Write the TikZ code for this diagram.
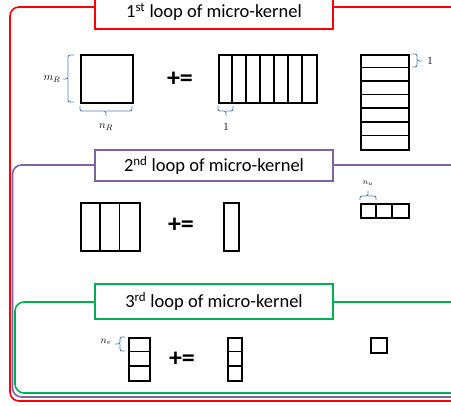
\documentclass[tikz,border=0pt]{standalone}
\usepackage{fontspec}
\setmainfont{Carlito}
\definecolor{lred}{RGB}{255,0,0}
\definecolor{lpurple}{RGB}{128,100,162}
\definecolor{lgreen}{RGB}{0,176,80}
\definecolor{bblue}{RGB}{79,129,189}
\begin{document}
\begin{tikzpicture}[x=1pt,y=-1pt,
  frame/.style={line width=1.6pt, rounded corners=9pt},
  titlebox/.style={draw, line width=1.5pt, fill=white, minimum width=238pt, inner sep=0pt, font=\fontsize{18.5}{20}\selectfont},
  mat/.style={draw=black, line width=2pt, inner sep=0pt, anchor=north west},
  div/.style={draw=black, line width=1.8pt},
  thindiv/.style={draw=black, line width=1.4pt},
  brc/.style={draw=bblue, line width=0.9pt, rounded corners=2pt},
  lab/.style={font=\fontsize{11}{12}\selectfont, inner sep=0pt},
  pe/.style={font=\fontsize{26}{28}\selectfont\bfseries, inner sep=0pt}]
\useasboundingbox (0,0) rectangle (451,406);
\clip (0,0) rectangle (451,406);
% frames
\draw[frame, lred] (470,7) -- (10,7) -- (10,401) -- (470,401);
\draw[frame, lpurple] (470,165) -- (12.5,165) -- (12.5,397) -- (470,397);
\draw[frame, lgreen] (470,302) -- (15,302) -- (15,393) -- (470,393);
% titles
\node[titlebox, draw=lred, minimum height=34pt] (t1) at (214,12) {1\textsuperscript{st} loop of micro-kernel};
\node[titlebox, draw=lpurple, minimum height=31pt] (t2) at (214,165.5) {2\textsuperscript{nd} loop of micro-kernel};
\node[titlebox, draw=lgreen, minimum height=35pt] (t3) at (214,301.5) {3\textsuperscript{rd} loop of micro-kernel};
% ---- loop 1
\node[mat, minimum width=52pt, minimum height=48pt] (C1) at (80,54) {};
\node[pe] (pe1) at (180,79) {+=};
\node[mat, minimum width=98pt, minimum height=48pt] (A1) at (218,54) {};
\foreach \i in {1,...,6} \draw[thindiv] ({218+14*\i},54) -- ({218+14*\i},102);
\node[mat, minimum width=48pt, minimum height=95pt] (B1) at (360,54) {};
\foreach \yy in {67.5,81,94.5,108,122,135.5} \draw[div] (360,\yy) -- (408,\yy);
% braces loop 1
\draw[brc] (74,55) -- (68,55) -- (68,79) -- (63,79);
\draw[brc] (68,79) -- (68,102) -- (74,102);
\node[lab] (mR) at (52,79) {$m_R$};
\draw[brc] (80,106) -- (80,111) -- (106,111) -- (106,116);
\draw[brc] (106,111) -- (132,111) -- (132,106);
\node[lab] (nR) at (106,127) {$n_R$};
\draw[brc] (218,106) -- (218,111) -- (226,111) -- (226,116);
\draw[brc] (226,111) -- (233,111) -- (233,106);
\node[lab] (one1) at (226,127) {$1$};
\draw[brc] (412,54) -- (417,54) -- (417,61) -- (422,61);
\draw[brc] (417,61) -- (417,67) -- (412,67);
\node[lab] (one2) at (430,61) {$1$};
% ---- loop 2
\node[mat, minimum width=59pt, minimum height=48pt] (C2) at (80,202) {};
\foreach \xx in {100,119.5} \draw[div] (\xx,202) -- (\xx,250);
\node[pe] (pe2) at (181,225) {+=};
\node[mat, minimum width=15pt, minimum height=48pt] (A2) at (223,202) {};
\node[mat, minimum width=48pt, minimum height=14pt] (B2) at (360,203) {};
\foreach \xx in {376,392} \draw[div] (\xx,203) -- (\xx,217);
\draw[brc] (360,200) -- (360,196) -- (368,196) -- (368,191);
\draw[brc] (368,196) -- (376,196) -- (376,200);
\node[lab, font=\fontsize{8}{9}\selectfont] (nu) at (368,183) {$n_u$};
% ---- loop 3
\node[mat, minimum width=21pt, minimum height=43pt] (C3) at (128,337) {};
\foreach \yy in {351.5,366} \draw[div] (128,\yy) -- (149,\yy);
\node[pe] (pe3) at (182,359) {+=};
\node[mat, minimum width=14pt, minimum height=43pt] (A3) at (227,337) {};
\foreach \yy in {351.5,366} \draw[div] (227,\yy) -- (241,\yy);
\node[mat, minimum width=16pt, minimum height=15pt] (B3) at (370,337) {};
\draw[brc] (125,337) -- (120,337) -- (120,344) -- (115,344);
\draw[brc] (120,344) -- (120,351) -- (125,351);
\node[lab, font=\fontsize{10}{11}\selectfont] (nv) at (106,342) {$n_v$};
\end{tikzpicture}
\end{document}
